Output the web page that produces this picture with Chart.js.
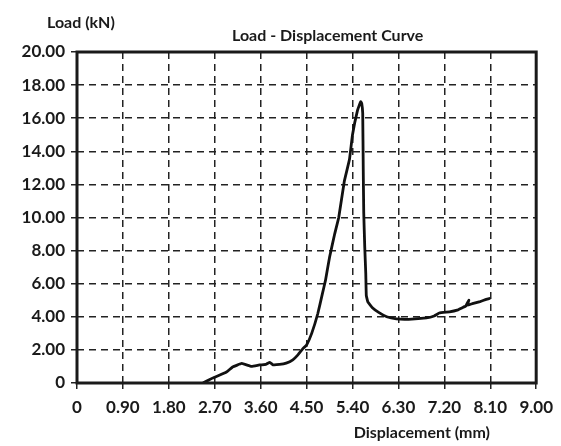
<!DOCTYPE html>
<html>
<head>
<meta charset="utf-8">
<script src="https://cdn.jsdelivr.net/npm/chart.js@4"></script>
<style>
  html, body { margin: 0; padding: 0; background: #fff; }
  canvas { display: block; }
</style>
</head>
<body>
<canvas id="c" width="561" height="446"></canvas>
<script>
// Displacement (mm) and Load (kN)
const displacement = [2.47, 2.66, 2.93, 3.05, 3.23, 3.42, 3.58, 3.70, 3.78, 3.84, 3.97, 4.10, 4.23, 4.33, 4.42, 4.50, 4.60, 4.72, 4.81, 4.87, 4.95, 5.05, 5.13, 5.24, 5.34, 5.40, 5.50, 5.56, 5.58, 5.60, 5.61, 5.62, 5.64, 5.66, 5.67, 5.70, 5.79, 5.92, 6.07, 6.26, 6.50, 6.85, 7.00, 7.10, 7.30, 7.45, 7.55, 7.62, 7.68, 7.65, 7.75, 7.90, 8.02, 8.10];
const load = [0.00, 0.30, 0.66, 0.97, 1.18, 1.00, 1.09, 1.12, 1.25, 1.10, 1.12, 1.20, 1.40, 1.70, 2.05, 2.30, 3.00, 4.20, 5.40, 6.20, 7.60, 9.00, 10.00, 12.20, 13.50, 15.00, 16.50, 17.00, 16.90, 16.30, 13.00, 10.30, 8.20, 6.60, 5.30, 4.90, 4.55, 4.25, 4.00, 3.87, 3.85, 3.93, 4.05, 4.23, 4.30, 4.40, 4.55, 4.65, 5.00, 4.70, 4.80, 4.92, 5.05, 5.12];
const xTicks = [0, 0.9, 1.8, 2.7, 3.6, 4.5, 5.4, 6.3, 7.2, 8.1, 9.0];
const yTicks = [0, 2, 4, 6, 8, 10, 12, 14, 16, 18, 20];
const titleText = 'Load - Displacement Curve';
const xTitle = 'Displacement (mm)';
const yTitle = 'Load (kN)';

const points = displacement.map((d, i) => ({ x: d, y: load[i] }));
const fmt = v => (Math.abs(v) < 1e-9 ? '0' : Number(v).toFixed(2));
const FONT = 'Lato, "DejaVu Sans", sans-serif';
const INK = '#1a1a1a';

const framePlugin = {
  id: 'frameAndTexts',
  afterDraw(chart) {
    const { ctx, chartArea: a } = chart;
    ctx.save();
    ctx.strokeStyle = INK;
    ctx.lineWidth = 3;
    ctx.setLineDash([]);
    ctx.strokeRect(a.left, a.top, a.right - a.left, a.bottom - a.top);
    ctx.fillStyle = INK;
    ctx.textBaseline = 'middle';
    ctx.font = 'bold 16px ' + FONT;
    ctx.textAlign = 'left';
    ctx.fillText(yTitle, 47, 23);
    ctx.fillText(titleText, 232, 36);
    ctx.textAlign = 'right';
    ctx.fillText(xTitle, 490, 433);
    ctx.restore();
  }
};

new Chart(document.getElementById('c'), {
  type: 'line',
  data: {
    datasets: [{
      data: points,
      borderColor: '#111',
      borderWidth: 2.8,
      pointRadius: 0,
      tension: 0.08,
      fill: false
    }]
  },
  options: {
    responsive: false,
    animation: false,
    devicePixelRatio: 1,
    layout: { padding: { top: 52, right: 24, left: 0, bottom: 0 } },
    plugins: { legend: { display: false }, tooltip: { enabled: false }, title: { display: false } },
    scales: {
      x: {
        type: 'linear',
        min: 0, max: 9,
        afterFit: s => { s.height = 63; },
        afterBuildTicks: s => { s.ticks = xTicks.map(v => ({ value: v })); },
        ticks: {
          callback: v => fmt(v),
          font: { family: FONT, size: 17, weight: 'bold' },
          color: INK,
          padding: 8,
          maxRotation: 0,
          autoSkip: false
        },
        grid: { color: '#222', lineWidth: 1.5, tickLength: 6, tickColor: '#222', tickWidth: 1.5 },
        border: { display: false, dash: [7, 5] }
      },
      y: {
        type: 'linear',
        min: 0, max: 20,
        afterFit: s => { s.width = 77; },
        afterBuildTicks: s => { s.ticks = yTicks.map(v => ({ value: v })); },
        ticks: {
          callback: v => fmt(v),
          font: { family: FONT, size: 17, weight: 'bold' },
          color: INK,
          padding: 6,
          autoSkip: false
        },
        grid: { color: '#222', lineWidth: 1.5, tickLength: 6, tickColor: '#222', tickWidth: 1.5 },
        border: { display: false, dash: [7, 5] }
      }
    }
  },
  plugins: [framePlugin]
});
</script>
</body>
</html>
